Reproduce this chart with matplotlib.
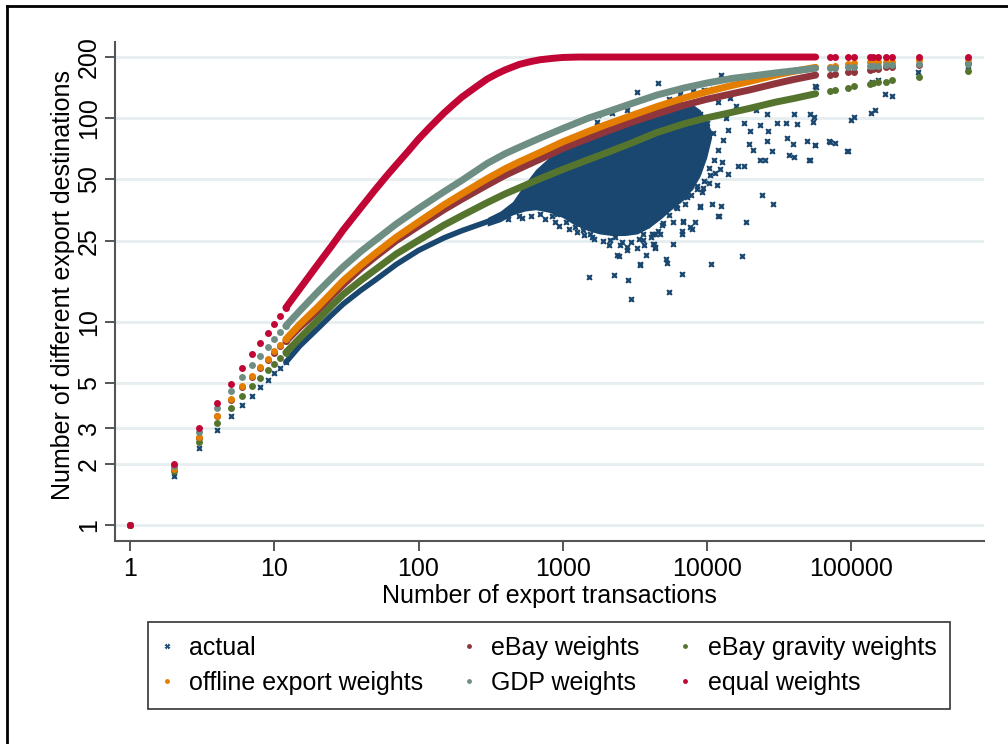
import matplotlib
matplotlib.use("Agg")
import matplotlib.pyplot as plt
from matplotlib.lines import Line2D


plt.rcParams["font.family"] = ["Liberation Sans", "DejaVu Sans"]
plt.rcParams["font.size"] = 18

# Stata s2color palette
NAVY = "#1a476f"
MAROON = "#90353b"
FOREST = "#55752f"
DKORANGE = "#e37e00"
TEAL = "#6e8e84"
CRANBERRY = "#c10534"
GRID = "#e6eef0"
AXIS = "#555555"

# few transactions: every seller count is a separate dot
n_small = [1, 2, 3, 4, 5, 6, 7, 8, 9, 10, 11, 12]
actual_small = [1, 1.74, 2.38, 2.93, 3.45, 3.91, 4.33, 4.76, 5.19, 5.56, 5.94, 6.31]
ebay_small = [1, 1.88, 2.68, 3.42, 4.10, 4.75, 5.35, 5.90, 6.45, 7.00, 7.55, 8.00]
gravity_small = [1, 1.84, 2.57, 3.19, 3.78, 4.31, 4.81, 5.28, 5.77, 6.17, 6.66, 7.05]
offline_small = [1, 1.89, 2.70, 3.45, 4.15, 4.81, 5.43, 5.99, 6.55, 7.15, 7.71, 8.19]
gdp_small = [1, 1.95, 2.85, 3.74, 4.56, 5.37, 6.10, 6.78, 7.54, 8.19, 8.90, 9.52]
equal_small = [1, 2.0, 2.99, 3.98, 4.96, 5.94, 6.91, 7.85, 8.84, 9.75, 10.7, 11.7]

# simulated curves where the dots merge into a band
n_dense = [12, 15, 20, 25, 30, 40, 50, 70, 100, 150, 200, 300, 400, 500, 700, 1000,
           1500, 2000, 3000, 4500, 7000, 10000, 15000, 20000, 30000, 40000, 57000]
ebay_dense = [8.0, 9.4, 11.3, 13.4, 15.2, 18.3, 20.8, 25, 29.5, 35.5, 40, 47, 52.5, 56.5,
              63, 71, 79.5, 86, 95.5, 105, 116, 124, 132, 138, 148, 155, 163]
gravity_dense = [7.05, 8.3, 10.2, 12.0, 13.6, 16.0, 18.0, 21.5, 25.1, 29.8, 33.2, 38.5, 42.5,
                 45.5, 50.5, 56, 62.5, 67.5, 75.5, 85, 94, 100.5, 107, 112, 120, 125, 132]
offline_dense = [8.19, 9.7, 11.8, 13.9, 15.9, 19.0, 21.6, 26.0, 30.9, 37.5, 42.5, 50.5, 56.5,
                 61, 68, 76.5, 86, 93, 103, 114, 126, 135, 145, 152, 163, 170, 178]
gdp_dense = [9.52, 11.3, 14.0, 16.4, 18.6, 22.2, 25.1, 30.2, 36.0, 43.5, 49.5, 60, 67, 72,
             80, 89, 100, 107, 118, 130, 141, 149, 157, 161, 167, 171, 176]

n_equal = [12, 15, 20, 25, 30, 40, 50, 60, 70, 85, 100, 120, 150, 175, 200, 250, 300,
           350, 400, 500, 600, 700, 850, 1000, 1300, 1700, 57000]
equal_dense = [11.7, 14.5, 19.1, 23.6, 28.2, 36.5, 44.5, 52, 59, 69, 79, 90.5, 106, 117,
               127, 142.5, 156, 165.5, 173, 184, 190, 194, 197, 199, 200, 200, 200]

# the largest sellers, sparse on the right
n_tail = [71800, 77700, 96200, 105000, 136000, 143000, 155000, 175000, 192000, 297000, 647000]
ebay_tail = [164, 165, 168, 169, 173, 174, 175, 178, 179, 183, 187]
gravity_tail = [136, 137, 141, 144, 148, 149, 151, 151, 154, 160, 171]
offline_tail = [179, 180, 185, 186, 189, 189, 189, 190, 190, 193, 195]
gdp_tail = [176, 177, 179, 179, 181, 181, 181, 182, 182, 185, 185]
equal_tail = [200] * 11

# actual destinations: tight band, then a dense cloud with scattered sellers
n_actual_band = [12, 15, 20, 25, 30, 40, 50, 70, 100, 150, 200, 300, 400]
actual_band = [6.31, 7.6, 9.25, 10.8, 12.2, 14.3, 16.0, 19.1, 22.4, 25.8, 28.0, 31.0, 33.0]

n_cloud = [300, 370, 450, 550, 650, 800, 1000, 1200, 1500, 1800, 2200, 2700,
           3300, 4000, 4800, 5800, 7000, 8000, 9000, 10000, 10800]
cloud_top = [32.5, 35, 39, 48, 56, 64, 70, 76, 82, 87, 92, 98, 104, 110, 116,
             120, 121, 117, 110, 98, 86]
cloud_bottom = [29.5, 31, 33.5, 35, 35.5, 34.5, 32.5, 30, 28, 27, 26.5, 26.5,
                27, 29, 32, 36, 40, 45, 52, 64, 80]

x_scatter = [
    4610, 12500, 57000, 52100, 55800, 55000, 40400, 42100, 35500, 30600, 26100, 26800,
    23400, 20000, 19500, 21100, 26100, 28200, 35900, 39900, 37400, 40400, 49400, 56500,
    51500, 71000, 25400, 23400, 18200, 16600, 14100, 12700, 12400, 11400, 11700, 10500,
    10300, 9480, 9230, 8520, 7660, 6890, 6530, 6360, 6190, 7270, 8980, 10800,
    12500, 12100, 8300, 7660, 6700, 6890, 5870, 4860, 4380, 4740, 4270, 4380,
    5870, 5270, 6700, 10700, 17500, 5510, 18700, 24100, 28700,
    3270, 910, 1320, 1220, 1390, 1550, 1770, 2130, 2500, 2790, 3270, 3630,
    3830, 4270, 2370, 2480, 3440, 2860, 2280, 1520, 2960, 4380,
    2790, 3470, 3780, 4310, 5210, 6700, 7870, 6800, 8980, 12000, 1590, 4150,
    1820, 2570, 3630, 93500, 700, 850, 1050, 500, 2190, 2790, 1720, 1770,
    294000, 140000, 173000, 192000, 105000, 100000, 138000, 147000, 71800, 77800,
    95100, 56400, 56400, 52100, 647000, 155000,
    420, 520, 600, 750, 880, 950, 1100, 1250, 1400,
    1650, 1900, 2100, 2300, 2600, 3000, 3400, 3700, 4100, 4600, 5000,
    5500, 6100, 7100, 7800, 8600, 9500, 10400, 11300, 12000, 13000, 14000, 11000,
    10000, 13500, 16000, 18000, 22000, 9000, 12000, 14500,
    5500, 6500, 8000, 9500, 11000,
]
y_scatter = [
    149, 163, 143, 105, 101, 96, 105, 94, 95, 95, 105, 87,
    92.5, 87, 75, 70, 77, 69, 80, 75, 66, 64.6, 77, 74,
    62, 77, 62, 62, 58, 58, 53, 61, 56, 53.5, 47, 52.5,
    48, 45.5, 43.5, 46.4, 46, 47.4, 43.5, 39.5, 36, 41, 37, 38,
    37, 33, 31, 29.2, 27.9, 31, 31, 29.8, 27.1, 27.1, 24, 22.9,
    24, 19.5, 17.2, 19.1, 21, 14, 31, 42, 38,
    135, 34, 33.4, 29.2, 28.2, 27.1, 30.4, 25.1, 23.8, 23.3, 22.9, 25.1,
    29.8, 27.1, 21.2, 21.0, 18.9, 16, 17, 16.5, 12.9, 23.3,
    22.6, 19.2, 21.2, 24.2, 20.4, 27.1, 28.7, 31.2, 36.7, 33.1, 26.1, 27.1,
    32.7, 30.4, 27.1, 69.2, 34, 33, 31, 33, 105.6, 110, 96, 103.5,
    169, 151, 131, 129, 101, 98, 106, 110, 76.6, 75.7,
    68.9, 73.8, 144, 62.2, 180, 155,
    32, 32.5, 33, 32, 31, 29.5, 28.5, 27.5, 26.8,
    25.5, 24.8, 23.8, 26, 24.6, 24.5, 25.5, 23.8, 26, 28, 30.5,
    33.5, 36.5, 38, 42, 45, 49, 57, 62, 70, 78, 88, 85,
    95, 100, 115, 95, 110, 105, 120, 126,
    125, 132, 136, 138, 140,
]

y_ticks = [1, 2, 3, 5, 10, 25, 50, 100, 200]
x_ticks = [1, 10, 100, 1000, 10000, 100000]

DOT = 5.0     # marker size of the simulated dots, pt
BAND = 5.0    # line width where the dots overlap, pt


def draw_series(ax, color, small, dense_x, dense, tail):
    ax.plot(n_small, small, "o", color=color, ms=DOT, mec="none", zorder=3)
    ax.plot(dense_x, dense, "-", color=color, lw=BAND, solid_capstyle="round", zorder=3)
    ax.plot(n_tail, tail, "o", color=color, ms=DOT, mec="none", zorder=3)


def main():
    fig = plt.figure(figsize=(10.08, 7.44), dpi=100)
    ax = fig.add_axes([0.1141, 0.2728, 0.8621, 0.6707])

    # actual
    ax.fill_between(n_cloud, cloud_bottom, cloud_top, color=NAVY, lw=0, zorder=2)
    ax.plot(n_actual_band, actual_band, "-", color=NAVY, lw=4.0, solid_capstyle="round", zorder=2)
    ax.plot(n_small, actual_small, "X", color=NAVY, ms=4.5, mec="none", zorder=2)
    ax.plot(x_scatter, y_scatter, "X", color=NAVY, ms=4.5, mec="none", zorder=2)

    draw_series(ax, MAROON, ebay_small, n_dense, ebay_dense, ebay_tail)
    draw_series(ax, FOREST, gravity_small, n_dense, gravity_dense, gravity_tail)
    draw_series(ax, DKORANGE, offline_small, n_dense, offline_dense, offline_tail)
    draw_series(ax, TEAL, gdp_small, n_dense, gdp_dense, gdp_tail)
    draw_series(ax, CRANBERRY, equal_small, n_equal, equal_dense, equal_tail)

    ax.set_xscale("log")
    ax.set_yscale("log")
    ax.set_xlim(0.783, 840000)
    ax.set_ylim(0.834, 237)
    ax.minorticks_off()
    ax.set_xticks(x_ticks)
    ax.set_xticklabels([str(v) for v in x_ticks])
    ax.set_yticks(y_ticks)
    ax.set_yticklabels([str(v) for v in y_ticks], rotation=90, va="center")

    ax.set_axisbelow(True)
    ax.grid(axis="y", color=GRID, lw=2.0)
    ax.grid(axis="x", visible=False)
    for side in ("top", "right"):
        ax.spines[side].set_visible(False)
    for side in ("left", "bottom"):
        ax.spines[side].set_color(AXIS)
        ax.spines[side].set_linewidth(1.5)
    ax.tick_params(axis="both", length=7.2, width=1.4, color=AXIS)
    ax.tick_params(axis="y", pad=3)
    ax.tick_params(axis="x", pad=4)

    ax.set_xlabel("Number of export transactions")
    ax.xaxis.set_label_coords(0.5, -0.087)
    ax.set_ylabel("Number of different export destinations", va="center")
    ax.yaxis.set_label_coords(-0.0604, 0.513)

    handles = [
        Line2D([], [], ls="none", marker="X", ms=4, mec="none", color=NAVY, label="actual"),
        Line2D([], [], ls="none", marker="o", ms=3.5, mec="none", color=DKORANGE, label="offline export weights"),
        Line2D([], [], ls="none", marker="o", ms=3.5, mec="none", color=MAROON, label="eBay weights"),
        Line2D([], [], ls="none", marker="o", ms=3.5, mec="none", color=TEAL, label="GDP weights"),
        Line2D([], [], ls="none", marker="o", ms=3.5, mec="none", color=FOREST, label="eBay gravity weights"),
        Line2D([], [], ls="none", marker="o", ms=3.5, mec="none", color=CRANBERRY, label="equal weights"),
    ]
    leg = fig.legend(
        handles=handles,
        ncol=3,
        loc="upper left",
        bbox_to_anchor=(148 / 1008, 1 - 622 / 744, 802 / 1008, 0.0),
        mode="expand",
        fancybox=False,
        framealpha=1,
        edgecolor="#333333",
        borderpad=0.55,
        labelspacing=0.44,
        handlelength=0.4,
        handletextpad=0.7,
        borderaxespad=0.0,
        fontsize=18,
    )
    leg.get_frame().set_linewidth(1.2)

    # outer frame (left and top edges)
    fig.add_artist(Line2D([6.7 / 1008, 6.7 / 1008], [0, 1 - 5.7 / 744],
                          transform=fig.transFigure, color="black", lw=2))
    fig.add_artist(Line2D([6.7 / 1008, 1], [1 - 5.7 / 744, 1 - 5.7 / 744],
                          transform=fig.transFigure, color="black", lw=2))

    fig.savefig("out.png", dpi=100)


if __name__ == "__main__":
    main()
